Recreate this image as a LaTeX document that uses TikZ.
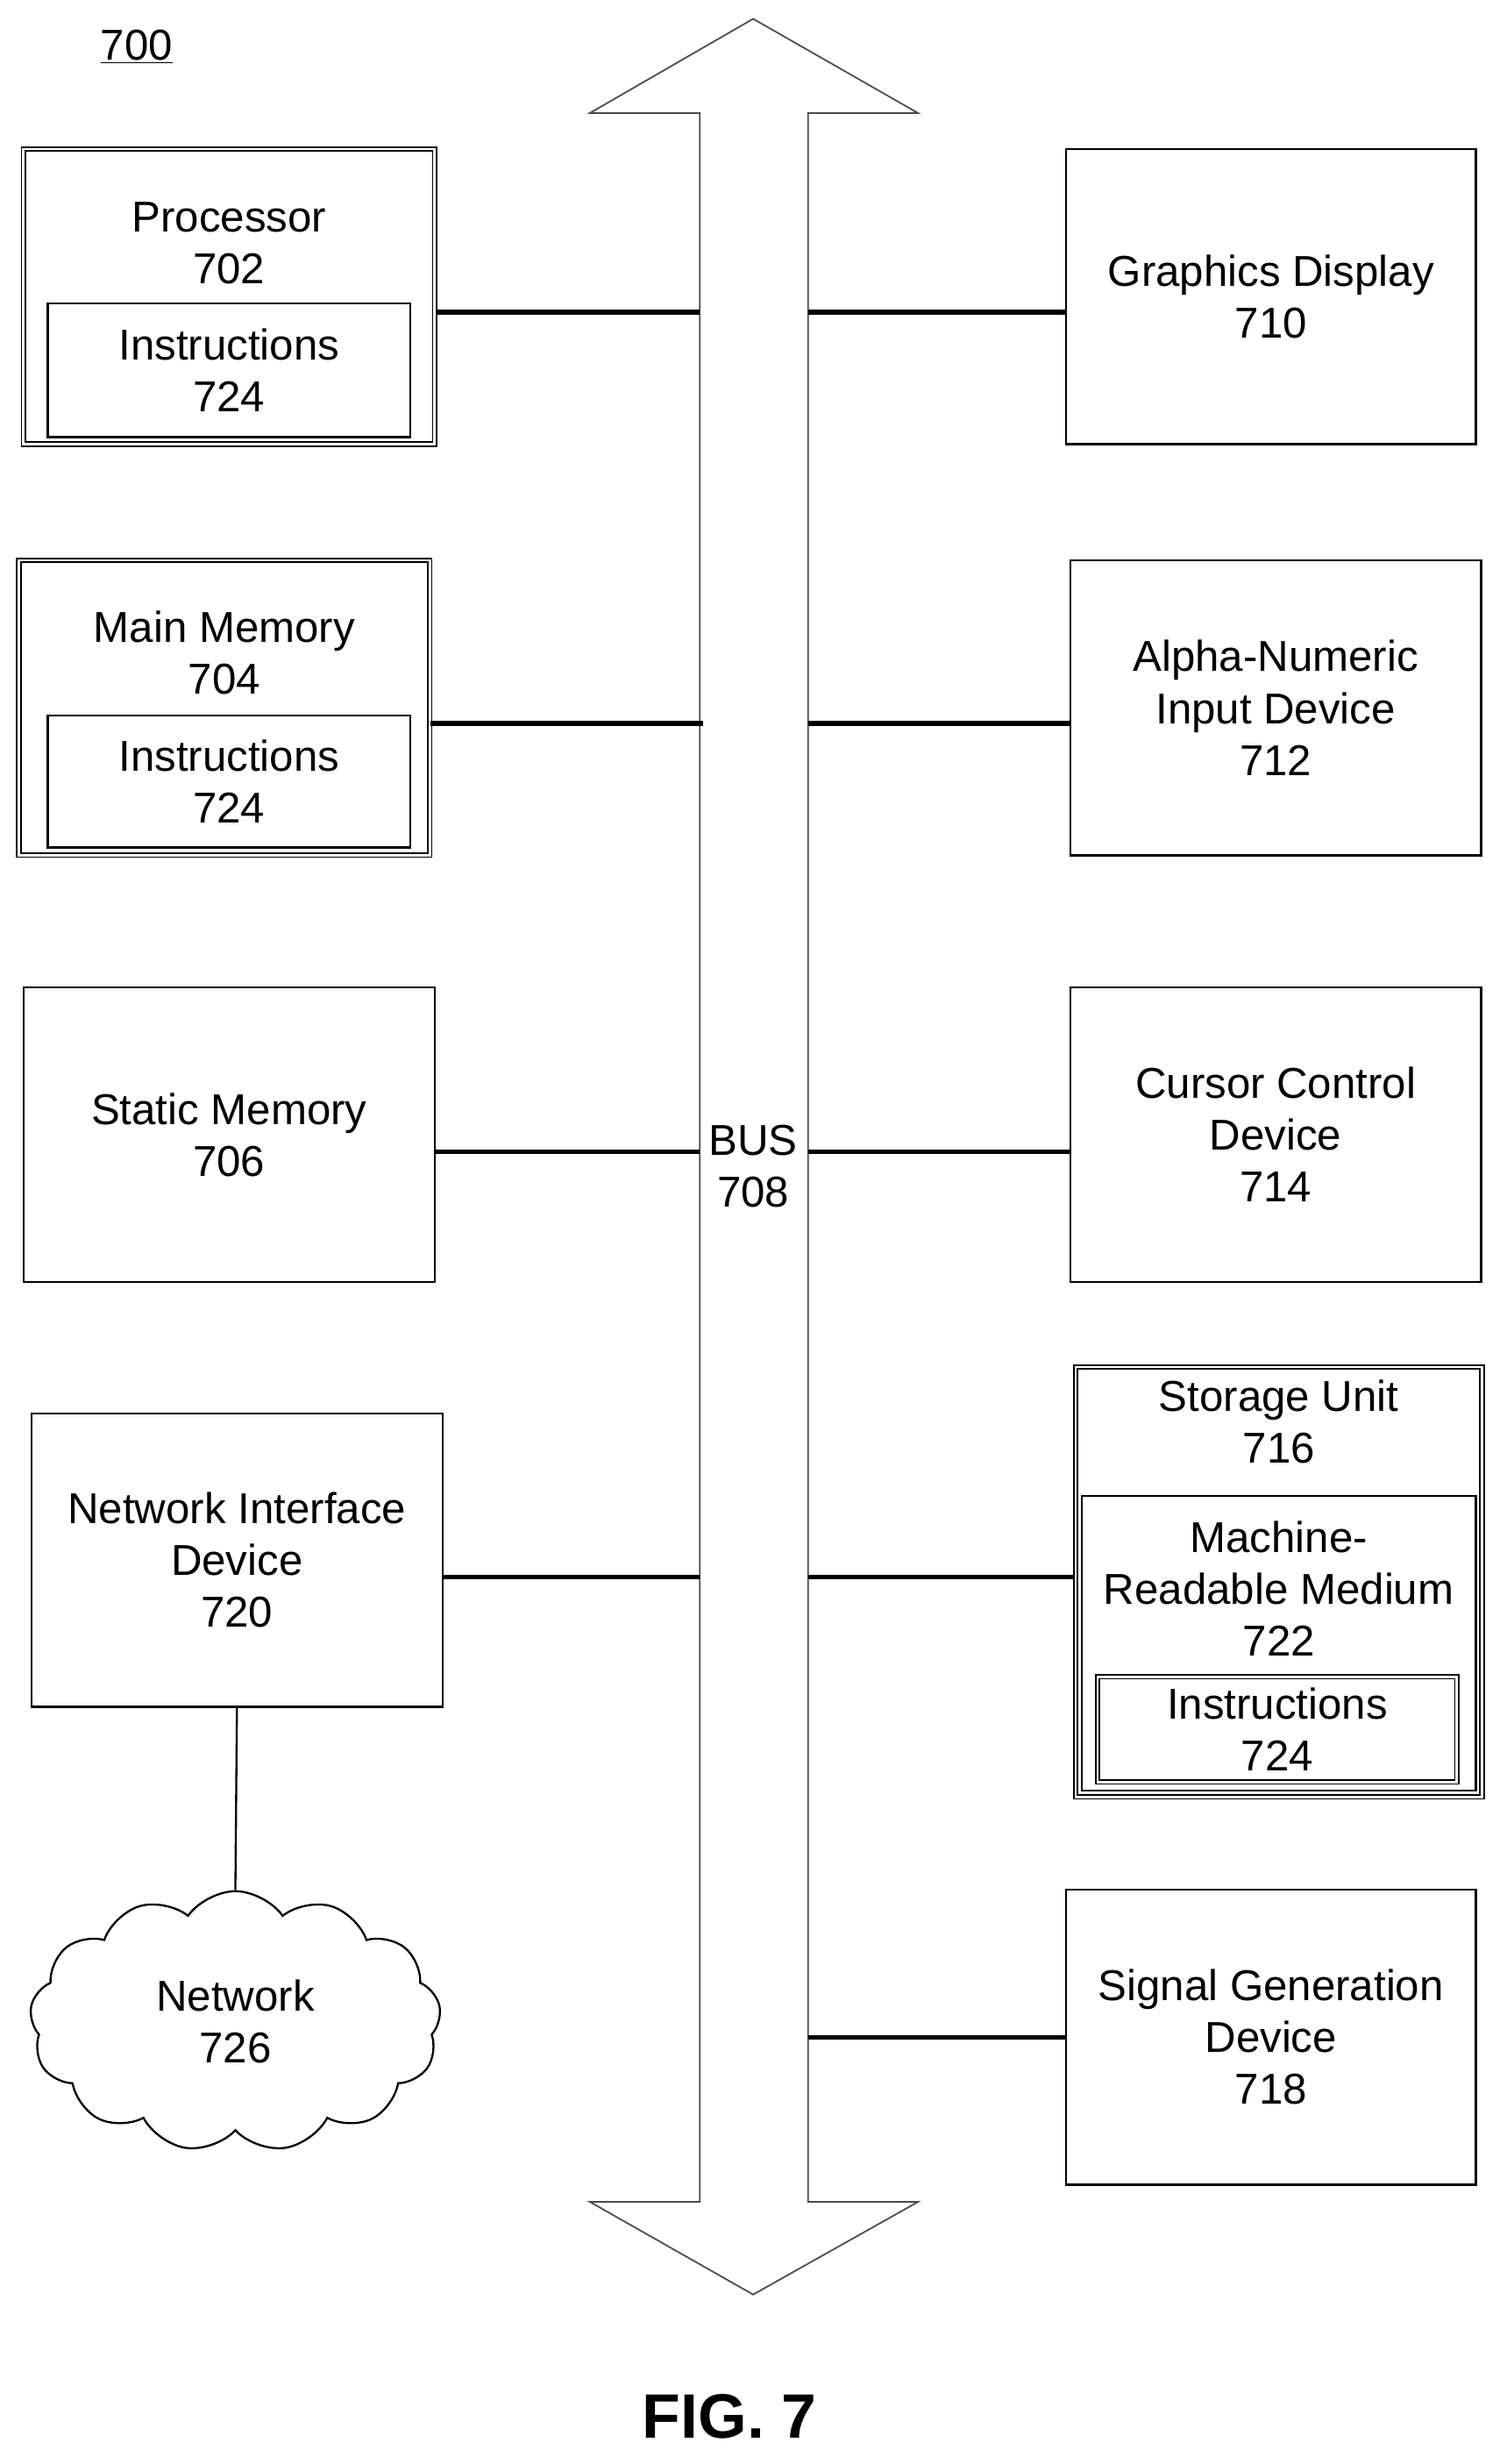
\documentclass[tikz,border=0pt]{standalone}
\usepackage{fontspec}
\setmainfont{Liberation Sans}
\usetikzlibrary{shapes.symbols}
\begin{document}
\begin{tikzpicture}[x=1pt,y=-1pt,
  box/.style={draw,line width=1.3pt,align=center,font=\fontsize{27.5}{33}\selectfont,inner sep=0},
  dbl/.style={draw,double,double distance=1.6pt,line width=0.9pt},
  conn/.style={line width=3pt}]
\useasboundingbox (0,0) rectangle (960,1570);
\node[font=\fontsize{27.5}{30}\selectfont] (n700) at (87,30) {\underline{700}};
% bus
\draw[line width=1pt,draw=black!70] (446,1403) -- (446,72) -- (376,72) -- (480,12) -- (585,72) -- (515,72) -- (515,1403) -- (585,1403) -- (480,1462) -- (376,1403) -- cycle;
\node[font=\fontsize{27.5}{33}\selectfont,align=center,fill=white,inner sep=1pt] (bus) at (480,743) {BUS\\708};
% left
\node[box,dbl,minimum width=262,minimum height=188] (proc) at (146,189) {};
\node[font=\fontsize{27.5}{33}\selectfont,align=center] (proct) at (146,155) {Processor\\702};
\node[box,minimum width=231,minimum height=85] (pi) at (146,236) {Instructions\\724};
\node[box,dbl,minimum width=262,minimum height=188] (mm) at (143,451) {};
\node[font=\fontsize{27.5}{33}\selectfont,align=center] (mmt) at (143,416) {Main Memory\\704};
\node[box,minimum width=231,minimum height=84] (mi) at (146,498) {Instructions\\724};
\node[box,minimum width=262,minimum height=188] (sm) at (146,723) {Static Memory\\706};
\node[box,minimum width=262,minimum height=187] (ni) at (151,994) {Network Interface\\Device\\720};
\node[cloud,draw,line width=1.3pt,cloud puffs=13,cloud puff arc=110,minimum width=262,minimum height=166,aspect=1.6,align=center,font=\fontsize{27.5}{33}\selectfont] (net) at (150,1288) {Network\\726};
% right
\node[box,minimum width=261,minimum height=188] (gd) at (810,189) {Graphics Display\\710};
\node[box,minimum width=262,minimum height=188] (an) at (813,451) {Alpha-Numeric\\Input Device\\712};
\node[box,minimum width=262,minimum height=188] (cc) at (813,723) {Cursor Control\\Device\\714};
\node[box,dbl,minimum width=259,minimum height=274] (su) at (815,1008) {};
\node[font=\fontsize{27.5}{33}\selectfont,align=center] (sut) at (815,906) {Storage Unit\\716};
\node[box,minimum width=251,minimum height=188] (mr) at (815,1047) {};
\node[font=\fontsize{27.5}{33}\selectfont,align=center] (mrt) at (815,1012) {Machine-\\Readable Medium\\722};
\node[box,dbl,minimum width=229,minimum height=67] (si) at (814,1102) {Instructions\\724};
\node[box,minimum width=261,minimum height=188] (sg) at (810,1298) {Signal Generation\\Device\\718};
\node[font=\bfseries\fontsize{40}{42}\selectfont] (fig) at (465,1540) {FIG. 7};
% connectors
\coordinate (l1) at (446,199); \coordinate (r1) at (515,199);
\coordinate (l2) at (448,461); \coordinate (r2) at (515,461);
\coordinate (l3) at (446,734); \coordinate (r3) at (515,734);
\coordinate (l4) at (446,1005); \coordinate (r4) at (515,1005);
\coordinate (r5) at (515,1298);
\draw[conn] (proc.east |- l1) -- (l1);
\draw[conn] (r1) -- (gd.west |- r1);
\draw[conn] (mm.east |- l2) -- (l2);
\draw[conn] (r2) -- (an.west |- r2);
\draw[conn] (sm.east |- l3) -- (l3);
\draw[conn] (r3) -- (cc.west |- r3);
\draw[conn] (ni.east |- l4) -- (l4);
\draw[conn] (r4) -- (su.west |- r4);
\draw[conn] (r5) -- (sg.west |- r5);
\draw[line width=1.3pt] (ni.south) -- (net.north);
\end{tikzpicture}
\end{document}
